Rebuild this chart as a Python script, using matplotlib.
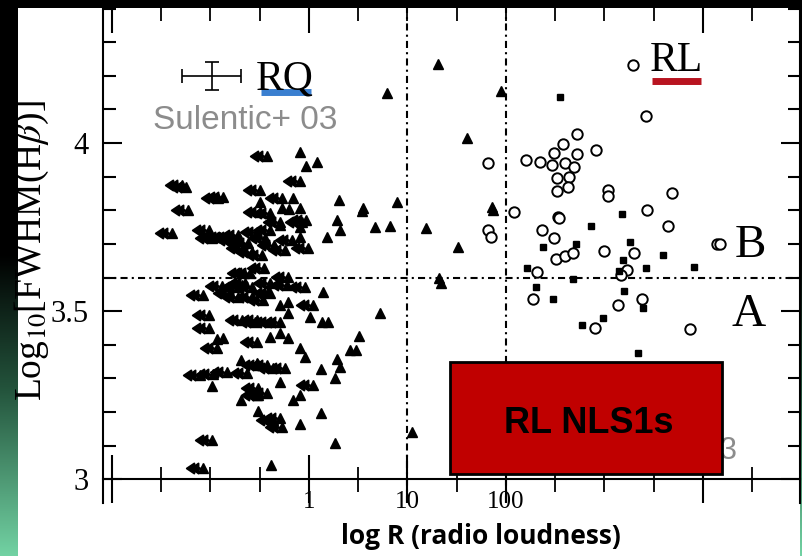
import matplotlib.pyplot as plt
import numpy as np
from matplotlib.path import Path
from matplotlib.patches import Rectangle
from matplotlib.colors import LinearSegmentedColormap

plt.rcParams['mathtext.fontset'] = 'stix'
SERIF = 'Liberation Serif'

# RQ detections (filled triangles): log R, log FWHM(Hb)
rq_x = [-0.09, -0.03, 0.08, -0.50, -0.16, -0.27, -0.09, -0.20, 0.30, 0.55, 0.54, 0.89,
        0.28, 0.31, 0.18, 0.67, 0.82, -0.29, -0.09, -0.09, 0.14, -0.42, -0.21, -0.29,
        -0.21, 0.72, 0.01, 0.13, 0.19, -0.69, -0.93, -0.87, -0.29, -0.21, -0.09, -0.04,
        0.51, 0.42, 0.48, 0.28, 0.32, -0.98, -0.29, 0.12, 0.26, -0.69, -0.09, -0.16,
        -0.52, 0.12, -0.09, 0.26, -0.39, -0.53, -0.40, -0.53, 0.79, 1.31, 1.95, 1.60,
        1.86, 1.87, 1.19, 1.51, 1.32, 1.34, 1.05]
rq_y = [3.973, 3.932, 3.943, 3.824, 3.836, 3.807, 3.807, 3.804, 3.830, 3.807, 3.798, 3.824,
        3.771, 3.741, 3.720, 3.750, 3.753, 3.756, 3.750, 3.720, 3.557, 3.557, 3.527, 3.518,
        3.494, 3.494, 3.482, 3.467, 3.467, 3.354, 3.417, 3.420, 3.435, 3.420, 3.390, 3.363,
        3.426, 3.384, 3.384, 3.357, 3.333, 3.277, 3.289, 3.327, 3.301, 3.235, 3.250, 3.235,
        3.202, 3.196, 3.164, 3.107, 3.042, 3.345, 3.423, 3.250, 4.149, 4.235, 4.155, 4.015,
        3.810, 3.800, 3.747, 3.690, 3.600, 3.583, 3.140]

# RQ upper limits (triangle with arrow to the left)
lim_x = [-0.43, -0.09, -1.29, -1.25, -0.87, -0.92, -0.50, -0.27, -1.23, -0.50, -0.07, -1.39,
         -1.01, -0.29, -0.40, -0.03, -0.17, -0.01, -0.72, -0.77, -0.82, -0.90, -0.98, -0.62,
         -0.67, -0.58, -0.53, -0.45, -0.35, -0.24, -0.48, -0.40, -0.66, -0.60, -0.72, -0.65,
         -0.58, -0.80, -0.72, -0.58, -1.08, -0.46, -0.21, -0.04, -0.88, -0.68, -0.40, -0.22,
         -0.47, -0.40, 0.04, -1.01, -0.68, -0.53, -0.40, -0.29, -1.01, -0.93, -0.53, -0.55,
         -1.11, -0.97, -0.83, -0.63, -0.52, -0.43, -0.37, -0.24, 0.04, -0.52, -0.43, -0.37,
         -0.27, -0.98, -1.08, -0.52, -0.29]
lim_y = [3.961, 3.887, 3.875, 3.869, 3.839, 3.836, 3.860, 3.836, 3.801, 3.795, 3.765, 3.732,
         3.741, 3.765, 3.792, 3.771, 3.711, 3.688, 3.726, 3.711, 3.720, 3.720, 3.717, 3.702,
         3.688, 3.676, 3.735, 3.717, 3.696, 3.682, 3.667, 3.741, 3.613, 3.613, 3.571, 3.583,
         3.571, 3.554, 3.542, 3.542, 3.548, 3.628, 3.601, 3.571, 3.574, 3.577, 3.583, 3.577,
         3.533, 3.554, 3.518, 3.488, 3.473, 3.473, 3.467, 3.467, 3.449, 3.390, 3.408, 3.467,
         3.310, 3.312, 3.318, 3.315, 3.339, 3.339, 3.330, 3.330, 3.280, 3.250, 3.256, 3.176,
         3.155, 3.116, 3.033, 3.271, 3.182]

# RL sources, open circles
rl_x = [1.82, 2.20, 2.35, 2.47, 2.49, 2.58, 2.72, 2.72, 2.60, 2.69, 2.52, 2.64, 2.52, 2.63,
        2.91, 2.08, 2.53, 2.54, 1.82, 1.85, 2.37, 2.49, 2.51, 2.60, 2.68, 2.32, 2.27, 2.90,
        3.29, 3.42, 3.04, 3.04, 3.69, 3.43, 3.64, 3.00, 3.30, 4.14, 4.17, 3.23, 3.17, 3.38,
        3.14, 3.87]
rl_y = [3.940, 3.950, 3.943, 3.935, 3.970, 3.997, 4.027, 3.967, 3.940, 3.930, 3.896, 3.900,
        3.857, 3.870, 3.980, 3.795, 3.780, 3.777, 3.740, 3.720, 3.740, 3.717, 3.655, 3.664,
        3.673, 3.616, 3.536, 3.450, 4.232, 4.080, 3.860, 3.842, 3.850, 3.800, 3.753, 3.680,
        3.673, 3.700, 3.700, 3.622, 3.607, 3.536, 3.518, 3.446]

# RL sources, filled squares
sq_x = [2.55, 2.86, 2.38, 2.71, 2.21, 2.68, 2.30, 2.48, 2.77, 3.18, 3.26, 3.19, 3.59, 3.42,
        3.91, 3.15, 3.20, 3.39, 2.98, 3.34]
sq_y = [4.137, 3.753, 3.690, 3.700, 3.628, 3.595, 3.571, 3.536, 3.458, 3.790, 3.705, 3.652,
        3.667, 3.628, 3.630, 3.620, 3.560, 3.509, 3.479, 3.375]

xticks = [-2, 0, 1, 2, 4]
xticklabels = ['', '1', '10', '100', '']
yticks = [3, 3.5, 4]
yticklabels = ['3', '3.5', '4']

W, H = 803, 556
fig = plt.figure(figsize=(W / 100, H / 100), dpi=100, facecolor='black')

# white slide area
fig.patches.append(Rectangle((18 / W, 0), 782 / W, 548 / H, transform=fig.transFigure,
                             facecolor='white', edgecolor='none', zorder=-10))

# green gradient strips on the slide edges
cm = LinearSegmentedColormap.from_list('edge', [(0, 'black'), (0.45, 'black'),
                                                (0.7, '#24553d'), (1, '#72d2a3')])
grad = np.linspace(0, 1, 256).reshape(-1, 1)
for x0, w in [(0, 18), (800, 3)]:
    gax = fig.add_axes([x0 / W, 0, w / W, 548 / H])
    gax.imshow(grad, aspect='auto', cmap=cm, origin='upper')
    gax.axis('off')

ax = fig.add_axes([103 / W, 53 / H, 697 / W, 495 / H])
ax.set_xlim(-2.091, 4.985)
ax.set_ylim(2.929, 4.402)
ax.set_facecolor('white')

# arrow marker (pointing left from the point)
verts = [(-1, 0), (-0.55, 0.3), (-0.55, -0.3), (-1, 0),
         (-0.7, 0), (-0.3, 0.3), (-0.3, -0.3), (-0.7, 0),
         (-0.5, 0), (0, 0)]
codes = [Path.MOVETO, Path.LINETO, Path.LINETO, Path.CLOSEPOLY,
         Path.MOVETO, Path.LINETO, Path.LINETO, Path.CLOSEPOLY,
         Path.MOVETO, Path.LINETO]
arrow = Path(verts, codes)

ax.plot(lim_x, lim_y, ls='none', marker=arrow, ms=24, mfc='black', mec='black', mew=1.4, zorder=3)
ax.plot(lim_x, lim_y, ls='none', marker='^', ms=6.5, color='black', zorder=4)
ax.plot(rq_x, rq_y, ls='none', marker='^', ms=6.5, color='black', zorder=4)
ax.plot(rl_x, rl_y, ls='none', marker='o', ms=7.5, mfc='white', mec='black', mew=1.4, zorder=4)
ax.plot(sq_x, sq_y, ls='none', marker='s', ms=5, color='black', zorder=4)

# dash-dot divisions
dd = (0, (3.4, 2, 1, 2))
ax.axhline(3.6, color='black', lw=1.5, ls=dd, zorder=2)
ax.axvline(1, color='black', lw=1.5, ls=dd, zorder=2)
ax.axvline(2, color='black', lw=1.5, ls=dd, zorder=2)

# error bar example
ax.errorbar(-0.985, 4.20, xerr=0.30, yerr=0.042, color='black', lw=1.2, capsize=5, capthick=1.2)

# spines and ticks
ax.spines['top'].set_visible(False)
ax.spines['bottom'].set_position(('data', 3))
for s in ['left', 'right', 'bottom']:
    ax.spines[s].set_linewidth(1.5)

ax.set_xticks(xticks)
ax.set_xticklabels(xticklabels, fontsize=18, family=SERIF)
ax.set_xticks(np.arange(-2, 5, 0.5), minor=True)
ax.tick_params(axis='x', which='major', direction='inout', length=35, width=1.5, pad=-9)
ax.tick_params(axis='x', which='minor', direction='inout', length=18, width=1.3)

ax.set_yticks(yticks)
ax.set_yticklabels(yticklabels, fontsize=22, family=SERIF)
ax.set_yticks(np.arange(3.0, 4.41, 0.1), minor=True)
ax.tick_params(axis='y', which='both', left=True, right=True, direction='in', width=1.5)
ax.tick_params(axis='y', which='major', length=14, pad=10)
ax.tick_params(axis='y', which='minor', length=9)

top = ax.secondary_xaxis('top')
top.set_xticks([-2, 0, 4])
top.set_xticks(np.arange(-2, 5, 0.5), minor=True)
top.set_xticklabels([])
top.tick_params(which='major', direction='in', length=18, width=1.5)
top.tick_params(which='minor', direction='in', length=9, width=1.3)
top.spines['top'].set_visible(False)

# labels on the plot
ax.text(-0.25, 4.19, 'RQ', family=SERIF, fontsize=30, ha='center', va='center')
ax.plot([-0.49, 0.02], [4.153, 4.153], color='#3a7fd0', lw=5, solid_capstyle='butt')
ax.text(3.73, 4.245, 'RL', family=SERIF, fontsize=30, ha='center', va='center')
ax.plot([3.48, 3.98], [4.185, 4.185], color='#b81420', lw=5, solid_capstyle='butt')
ax.text(4.48, 3.695, 'B', family=SERIF, fontsize=34, ha='center', va='center')
ax.text(4.46, 3.49, 'A', family=SERIF, fontsize=34, ha='center', va='center')
ax.text(-0.65, 4.068, 'Sulentic+ 03', family='Liberation Sans', fontsize=24,
        color='#8c8c8c', ha='center', va='center')
ax.text(4.26, 3.083, '3', family='Liberation Sans', fontsize=22, color='#8c8c8c',
        ha='center', va='center')

ax.add_patch(Rectangle((1.43, 3.015), 2.76, 0.333, facecolor='#c00000', edgecolor='black',
                       lw=2, zorder=6))
ax.text(2.84, 3.165, 'RL NLS1s', family='Liberation Sans', fontweight='bold', fontsize=26,
        ha='center', va='center', zorder=7)

fig.text(32 / W, 1 - 251 / H, r'Log$_{10}$[FWHM(H$\beta$)]', family=SERIF, fontsize=27,
         rotation=90, ha='center', va='center')
fig.text(481 / W, 1 - 536 / H, 'log R (radio loudness)', family='Open Sans', fontweight='bold',
         fontsize=19, ha='center', va='center')

fig.savefig('out.png', dpi=100, facecolor='black')
